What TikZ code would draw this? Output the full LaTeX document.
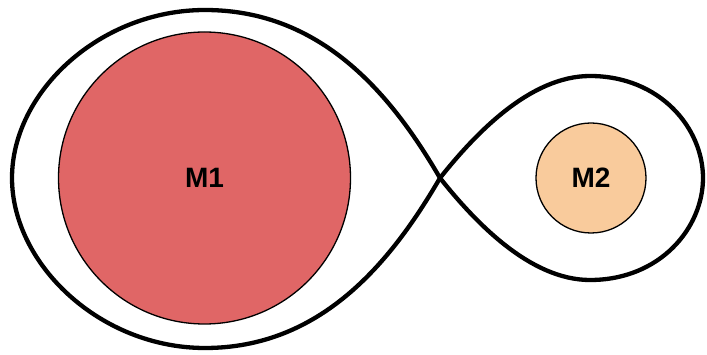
\documentclass[tikz,border=0pt]{standalone}
\usepackage{fontspec}
\setmainfont{Liberation Sans}
\definecolor{starA}{HTML}{E06666}
\definecolor{starB}{HTML}{F9CB9C}
\begin{document}
\begin{tikzpicture}[x=1pt,y=-1pt,
  star/.style={circle,draw=black,line width=1.3pt,inner sep=0pt,
    font=\fontsize{28}{30}\selectfont\bfseries},
  lobe/.style={draw=black,line width=4.3pt,line join=round}]
\useasboundingbox (0,0) rectangle (707,355);
\node[star,fill=starA,minimum size=292pt] (m1) at (204.5,178) {M1};
\node[star,fill=starB,minimum size=110pt] (m2) at (591,178) {M2};
\coordinate (c) at (440,178);
% left lobe
\path[lobe] (c) .. controls (390,92) and (320,10) .. (205,10)
  .. controls (100,10) and (12,92) .. (12,178)
  .. controls (12,264) and (100,348) .. (205,348)
  .. controls (320,348) and (390,264) .. (c);
% right lobe
\path[lobe] (c) .. controls (475,134) and (530,76) .. (590,76)
  .. controls (660,76) and (703,128) .. (703,178)
  .. controls (703,228) and (660,280) .. (590,280)
  .. controls (530,280) and (475,222) .. (c);
\end{tikzpicture}
\end{document}
